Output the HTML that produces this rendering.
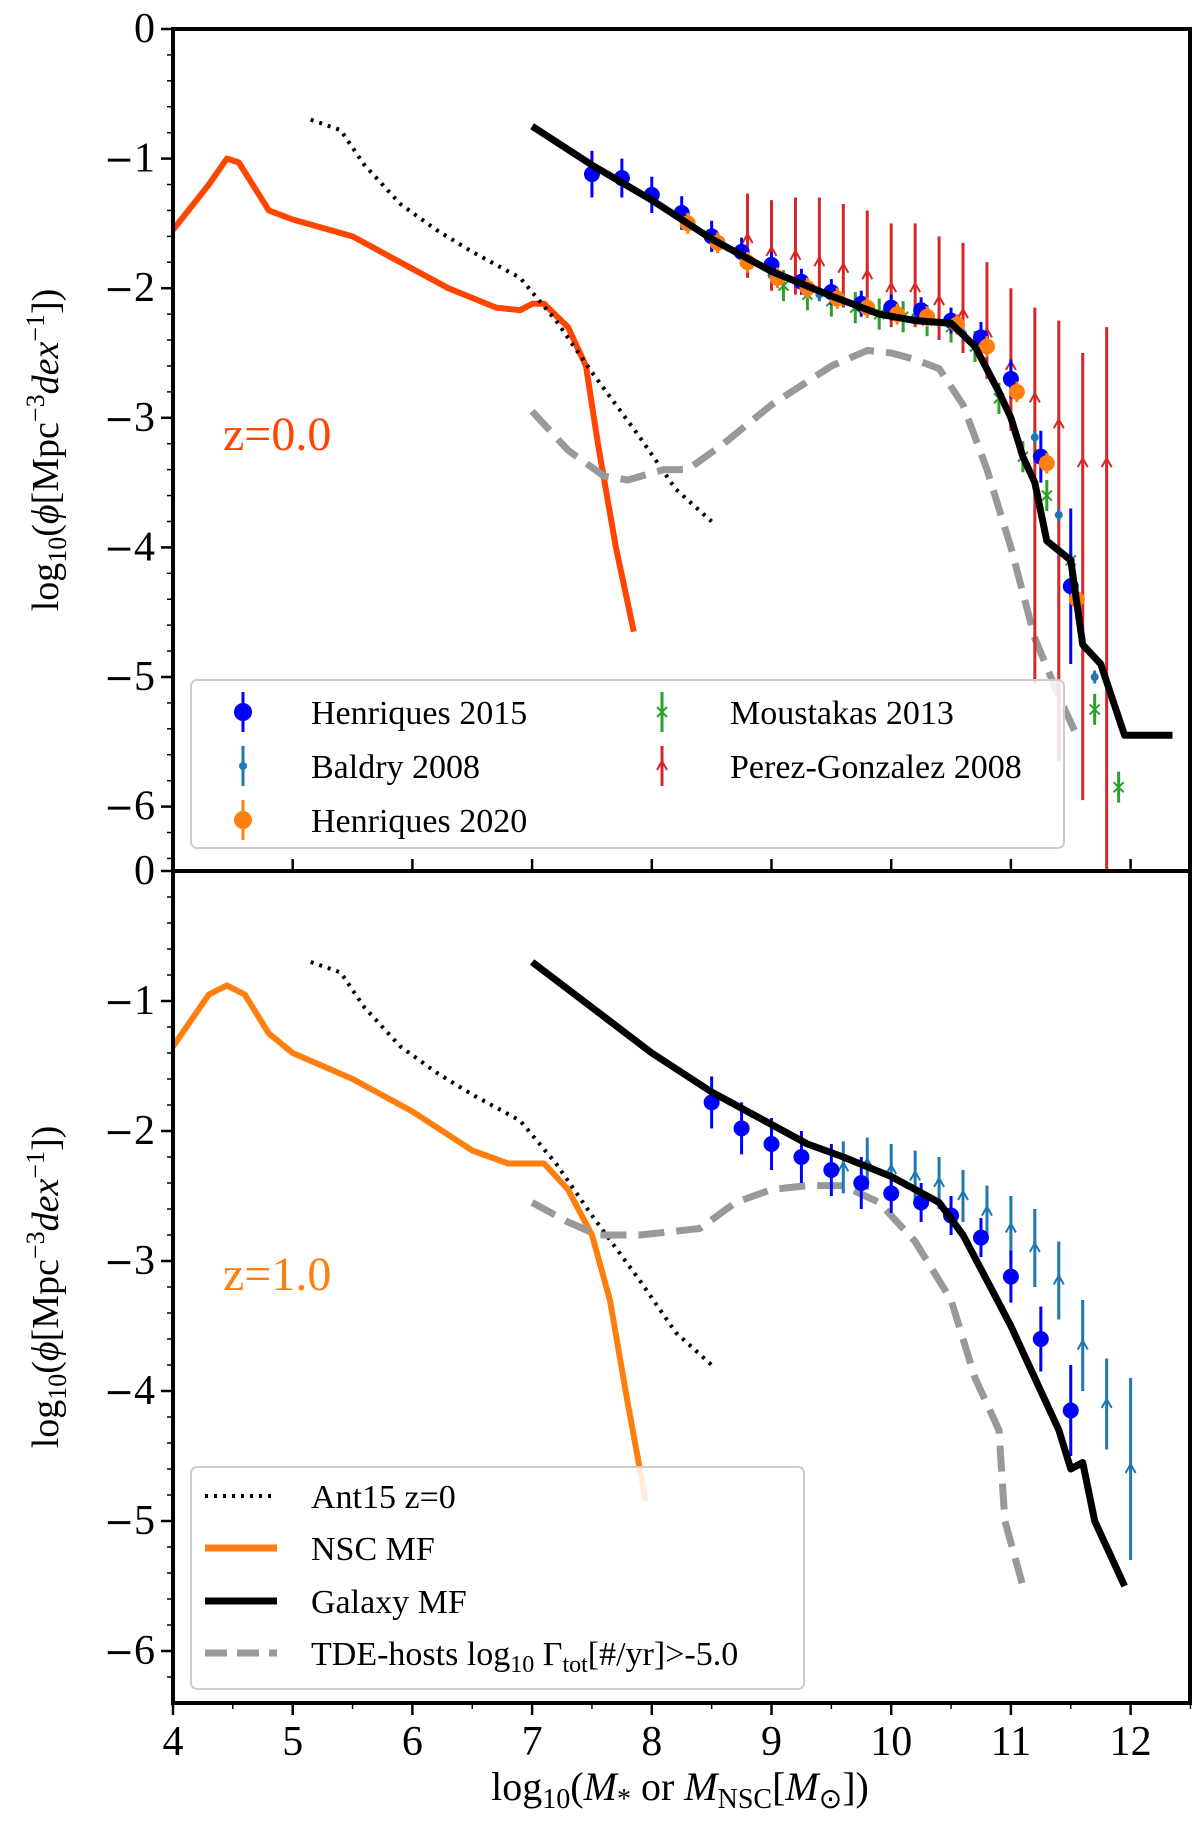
<!DOCTYPE html>
<html><head><meta charset="utf-8">
<style>
html,body{margin:0;padding:0;background:#fff;}
svg{display:block;font-family:"Liberation Serif",serif;}
</style></head>
<body>
<svg id="fig" width="1200" height="1834" viewBox="0 0 1200 1834" xmlns="http://www.w3.org/2000/svg"></svg>
<script>
// ---- data ----
const xTicks=[4,5,6,7,8,9,10,11,12];
const yTicks=[0,-1,-2,-3,-4,-5,-6];
// top panel z=0
const nscTopX=[4,4.3,4.45,4.55,4.8,5,5.5,6,6.3,6.7,6.9,7.0,7.1,7.3,7.45,7.55,7.7,7.85];
const nscTopY=[-1.55,-1.2,-1.0,-1.03,-1.4,-1.47,-1.6,-1.85,-2.0,-2.15,-2.17,-2.12,-2.12,-2.3,-2.6,-3.2,-4.0,-4.65];
const antX=[5.15,5.4,5.6,5.9,6.2,6.5,6.9,7.2,7.5,7.9,8.2,8.5];
const antY=[-0.7,-0.78,-1.05,-1.35,-1.55,-1.72,-1.92,-2.25,-2.65,-3.15,-3.55,-3.8];
const galTopX=[7,7.5,8,8.5,9,9.5,9.9,10.2,10.5,10.7,10.9,11.0,11.1,11.2,11.3,11.5,11.6,11.75,11.95,12.35];
const galTopY=[-0.75,-1.05,-1.32,-1.62,-1.87,-2.06,-2.2,-2.25,-2.27,-2.45,-2.8,-3.0,-3.3,-3.5,-3.95,-4.1,-4.75,-4.9,-5.45,-5.45];
const tdeTopX=[7,7.3,7.6,7.8,8.1,8.3,8.6,9,9.5,9.8,10.0,10.2,10.4,10.6,10.8,11.0,11.2,11.4,11.55];
const tdeTopY=[-2.95,-3.25,-3.45,-3.48,-3.4,-3.4,-3.2,-2.9,-2.6,-2.48,-2.5,-2.55,-2.62,-2.9,-3.4,-4.0,-4.7,-5.15,-5.45];
const h15TopX=[7.5,7.75,8,8.25,8.5,8.75,9,9.25,9.5,9.75,10,10.25,10.5,10.75,11,11.25,11.5];
const h15TopY=[-1.12,-1.15,-1.28,-1.42,-1.6,-1.72,-1.82,-1.95,-2.03,-2.12,-2.15,-2.17,-2.25,-2.38,-2.7,-3.3,-4.3];
const h15TopE=[0.18,0.15,0.14,0.13,0.12,0.11,0.1,0.1,0.1,0.1,0.1,0.1,0.1,0.12,0.15,0.2,0.6];
const h20X=[8.3,8.55,8.8,9.05,9.3,9.55,9.8,10.05,10.3,10.55,10.8,11.05,11.3,11.55];
const h20Y=[-1.5,-1.65,-1.8,-1.92,-2.0,-2.08,-2.15,-2.2,-2.22,-2.28,-2.45,-2.8,-3.35,-4.4];
const pgX=[8.8,9.0,9.2,9.4,9.6,9.8,10.0,10.2,10.4,10.6,10.8,11.0,11.2,11.4,11.6,11.8];
const pgY=[-1.62,-1.72,-1.75,-1.8,-1.85,-1.9,-2.0,-2.0,-2.1,-2.2,-2.35,-2.6,-2.85,-3.05,-3.35,-3.35];
const pgUp=[0.35,0.4,0.45,0.5,0.5,0.5,0.5,0.5,0.5,0.55,0.55,0.6,0.7,0.8,0.85,1.05];
const pgDn=[0.3,0.3,0.3,0.3,0.3,0.3,0.3,0.3,0.3,0.3,0.35,0.5,2.2,2.6,2.6,3.3];
const mouX=[9.1,9.3,9.5,9.7,9.9,10.1,10.3,10.5,10.7,10.9,11.1,11.3,11.5,11.7,11.9];
const mouY=[-1.98,-2.05,-2.1,-2.15,-2.2,-2.22,-2.25,-2.3,-2.45,-2.85,-3.3,-3.6,-4.1,-5.25,-5.85];
const balTopX=[9.0,9.4,9.8,10.2,10.6,11.0,11.2,11.4,11.5,11.7];
const balTopY=[-1.9,-2.05,-2.15,-2.22,-2.35,-2.7,-3.15,-3.75,-4.1,-5.0];
// bottom panel z=1
const nscBotX=[4,4.3,4.45,4.6,4.8,5,5.5,6,6.5,6.8,7.1,7.3,7.5,7.65,7.8,7.95];
const nscBotY=[-1.35,-0.95,-0.88,-0.95,-1.25,-1.4,-1.6,-1.85,-2.15,-2.25,-2.25,-2.45,-2.8,-3.3,-4.1,-4.85];
const galBotX=[7,7.5,8,8.5,9,9.3,9.6,10,10.4,10.6,10.8,11.0,11.2,11.4,11.5,11.6,11.7,11.95];
const galBotY=[-0.7,-1.05,-1.4,-1.7,-1.95,-2.1,-2.2,-2.35,-2.55,-2.8,-3.15,-3.5,-3.9,-4.3,-4.6,-4.55,-5.0,-5.5];
const tdeBotX=[7,7.3,7.55,7.9,8.4,8.7,9.0,9.3,9.6,9.9,10.2,10.5,10.7,10.9,10.95,11.1];
const tdeBotY=[-2.55,-2.7,-2.8,-2.8,-2.75,-2.55,-2.45,-2.42,-2.42,-2.55,-2.85,-3.3,-3.9,-4.3,-5.0,-5.5];
const h15BotX=[8.5,8.75,9,9.25,9.5,9.75,10,10.25,10.5,10.75,11,11.25,11.5];
const h15BotY=[-1.78,-1.98,-2.1,-2.2,-2.3,-2.4,-2.48,-2.55,-2.65,-2.82,-3.12,-3.6,-4.15];
const h15BotE=[0.2,0.2,0.2,0.2,0.2,0.2,0.15,0.15,0.15,0.15,0.2,0.25,0.35];
const balBotX=[9.6,9.8,10.0,10.2,10.4,10.6,10.8,11.0,11.2,11.4,11.6,11.8,12.0];
const balBotY=[-2.28,-2.25,-2.3,-2.35,-2.4,-2.5,-2.62,-2.75,-2.9,-3.15,-3.65,-4.1,-4.6];
const balBotE=[0.2,0.2,0.2,0.2,0.2,0.2,0.2,0.25,0.3,0.3,0.35,0.35,0.7];

// ---- layout ----
const L=173,R=1190,XU=119.7;
const panels=[{top:29,bot:871,y0:29,yu:129.6},{top:871,bot:1703,y0:871,yu:130}];
function sx(v){return L+(v-4)*XU;}
function sy(p,v){return p.y0-v*p.yu;}
const svg=document.getElementById('fig');
const NS='http://www.w3.org/2000/svg';
function mk(tag,attrs,parent){const e=document.createElementNS(NS,tag);for(const k in attrs)e.setAttribute(k,attrs[k]);(parent||svg).appendChild(e);return e;}
function line(p,xs,ys,style,name,g){
  const d=xs.map((x,i)=>(i?'L':'M')+sx(x).toFixed(1)+','+sy(p,ys[i]).toFixed(1)).join('');
  const e=mk('path',Object.assign({d:d,fill:'none','stroke-linejoin':'round'},style),g);
  
  
}
function errPts(p,xs,ys,up,dn,color,marker,name,g){
  xs.forEach((x,i)=>{
    const X=sx(x),Y=sy(p,ys[i]);
    const grp=mk('g',{},g);
    
    
    mk('line',{x1:X,x2:X,y1:sy(p,ys[i]+up[i]),y2:sy(p,ys[i]-dn[i]),stroke:color,'stroke-width':3},grp);
    if(marker==='circle')mk('circle',{cx:X,cy:Y,r:8,fill:color},grp);
    else if(marker==='small')mk('circle',{cx:X,cy:Y,r:4,fill:color},grp);
    else if(marker==='arrow'){mk('path',{d:`M${X-5},${Y+4}L${X},${Y-5}L${X+5},${Y+4}`,fill:'none',stroke:color,'stroke-width':2},grp);}
    else if(marker==='x'){mk('path',{d:`M${X-5},${Y-5}L${X+5},${Y+5}M${X+5},${Y-5}L${X-5},${Y+5}`,fill:'none',stroke:color,'stroke-width':2},grp);}
  });
}
function rep(n,v){return Array(n).fill(v);}

panels.forEach((p,i)=>{const c=mk('clipPath',{id:'clip'+i});mk('rect',{x:L,y:p.top,width:R-L,height:p.bot-p.top},c);});

function axes(p,idx){
  const g=mk('g',{});
  
  
  yTicks.forEach(v=>{const Y=sy(p,v);if(Y<p.top-2||Y>p.bot+2)return;
    mk('line',{x1:L-12,x2:L,y1:Y,y2:Y,stroke:'#000','stroke-width':2.5},g);
    const t=mk('text',{x:L-18,y:Y+13,'text-anchor':'end','font-size':42},g);
    t.innerHTML=v===0?'0':'<tspan font-family="DejaVu Sans" font-size="36">\u2212</tspan>'+Math.abs(v);
  });
  for(let v=0;v>=-6.5;v-=0.2){const Y=sy(p,v);if(Y<p.top||Y>p.bot)continue;mk('line',{x1:L-6,x2:L,y1:Y,y2:Y,stroke:'#000','stroke-width':1.5},g);}
  xTicks.forEach(v=>{const X=sx(v);
    if(idx){mk('line',{x1:X,x2:X,y1:p.bot,y2:p.bot+12,stroke:'#000','stroke-width':2.5},g);
      const t=mk('text',{x:X,y:p.bot+52,'text-anchor':'middle','font-size':42},g);t.textContent=v;}
    else mk('line',{x1:X,x2:X,y1:p.bot-12,y2:p.bot,stroke:'#000','stroke-width':2.5},g);
  });
  if(idx){for(let v=4;v<=12.5;v+=0.5){mk('line',{x1:sx(v),x2:sx(v),y1:p.bot,y2:p.bot+6,stroke:'#000','stroke-width':1.5},g);}}
  mk('rect',{x:L,y:p.top,width:R-L,height:p.bot-p.top,fill:'none',stroke:'#000','stroke-width':4},g);
  const yl=mk('text',{x:0,y:0,'font-size':38,'text-anchor':'middle',transform:`translate(58,${(p.top+p.bot)/2}) rotate(-90)`},g);
  yl.innerHTML='log<tspan font-size="26" dy="8">10</tspan><tspan dy="-8">(</tspan><tspan font-style="italic">ϕ</tspan>[Mpc<tspan font-size="26" dy="-14">−3</tspan><tspan dy="14" font-style="italic">dex</tspan><tspan font-size="26" dy="-14">−1</tspan><tspan dy="14">])</tspan>';
}

(function(){
  const p=panels[0];
  const g=mk('g',{'clip-path':'url(#clip0)'});
  
  
  line(p,nscTopX,nscTopY,{stroke:'#ff4500','stroke-width':6},'nsc-mf-z0',g);
  line(p,antX,antY,{stroke:'#000','stroke-width':4,'stroke-dasharray':'3,6'},'ant15-line-top',g);
  line(p,tdeTopX,tdeTopY,{stroke:'#999','stroke-width':7,'stroke-dasharray':'26,12'},'tde-hosts-z0',g);
  errPts(p,pgX,pgY,pgUp,pgDn,'#d62728','arrow','perez-gonzalez-2008',g);
  errPts(p,mouX,mouY,rep(15,0.12),rep(15,0.12),'#2ca02c','x','moustakas-2013',g);
  errPts(p,balTopX,balTopY,rep(10,0.05),rep(10,0.05),'#1f77b4','small','baldry-2008',g);
  errPts(p,h15TopX,h15TopY,h15TopE,h15TopE,'#0000ff','circle','henriques-2015',g);
  errPts(p,h20X,h20Y,rep(14,0.08),rep(14,0.08),'#ff7f0e','circle','henriques-2020',g);
  line(p,galTopX,galTopY,{stroke:'#000','stroke-width':7},'galaxy-mf-z0',g);
  axes(p,0);
  const t=mk('text',{x:223,y:450,'font-size':48,fill:'#ff4500'});t.textContent='z=0.0';
  
  const lg=mk('g',{});
  
  mk('rect',{x:191,y:680,width:873,height:168,rx:6,fill:'#fff','fill-opacity':0.85,stroke:'#ccc','stroke-width':2},lg);
  const ents=[['Henriques 2015','#0000ff','circle',243,712],['Baldry 2008','#1f77b4','small',243,766],['Henriques 2020','#ff7f0e','circle',243,820],['Moustakas 2013','#2ca02c','x',662,712],['Perez-Gonzalez 2008','#d62728','arrow',662,766]];
  ents.forEach(e=>{const eg=mk('g',{},lg);
    
    const [lab,c,m,X,Y]=e;
    mk('line',{x1:X,x2:X,y1:Y-20,y2:Y+20,stroke:c,'stroke-width':3},eg);
    if(m==='circle')mk('circle',{cx:X,cy:Y,r:9,fill:c},eg);
    else if(m==='small')mk('circle',{cx:X,cy:Y,r:4,fill:c},eg);
    else if(m==='x')mk('path',{d:`M${X-5},${Y-5}L${X+5},${Y+5}M${X+5},${Y-5}L${X-5},${Y+5}`,stroke:c,'stroke-width':2},eg);
    else mk('path',{d:`M${X-5},${Y+4}L${X},${Y-5}L${X+5},${Y+4}`,fill:'none',stroke:c,'stroke-width':2},eg);
    const t=mk('text',{x:X+68,y:Y+12,'font-size':34},eg);t.textContent=lab;});
})();

(function(){
  const p=panels[1];
  const g=mk('g',{'clip-path':'url(#clip1)'});
  
  
  line(p,nscBotX,nscBotY,{stroke:'#ff7f0e','stroke-width':6},'nsc-mf-z1',g);
  line(p,antX,antY,{stroke:'#000','stroke-width':4,'stroke-dasharray':'3,6'},'ant15-line-bottom',g);
  line(p,tdeBotX,tdeBotY,{stroke:'#999','stroke-width':7,'stroke-dasharray':'26,12'},'tde-hosts-z1',g);
  errPts(p,balBotX,balBotY,balBotE,balBotE,'#1f77b4','arrow','baldry-z1',g);
  errPts(p,h15BotX,h15BotY,h15BotE,h15BotE,'#0000ff','circle','henriques-2015-z1',g);
  line(p,galBotX,galBotY,{stroke:'#000','stroke-width':7},'galaxy-mf-z1',g);
  axes(p,1);
  const t=mk('text',{x:223,y:1290,'font-size':48,fill:'#ff7f0e'});t.textContent='z=1.0';
  
  const lg=mk('g',{});
  
  mk('rect',{x:191,y:1467,width:613,height:222,rx:6,fill:'#fff','fill-opacity':0.85,stroke:'#ccc','stroke-width':2},lg);
  const ents=[['Ant15 z=0',{stroke:'#000','stroke-width':4,'stroke-dasharray':'3,6'},1496],['NSC MF',{stroke:'#ff7f0e','stroke-width':7},1548],['Galaxy MF',{stroke:'#000','stroke-width':7},1601],['TDE-hosts',{stroke:'#999','stroke-width':7,'stroke-dasharray':'22,10'},1653]];
  ents.forEach(e=>{const eg=mk('g',{},lg);
    
    mk('line',Object.assign({x1:205,x2:277,y1:e[2],y2:e[2]},e[1]),eg);
    const t=mk('text',{x:311,y:e[2]+12,'font-size':34},eg);
    if(e[0]==='TDE-hosts')t.innerHTML='TDE-hosts log<tspan font-size="24" dy="7">10</tspan><tspan dy="-7"> Γ</tspan><tspan font-size="24" dy="7">tot</tspan><tspan dy="-7">[#/yr]&gt;-5.0</tspan>';
    else t.textContent=e[0];});
})();

const xl=mk('text',{x:680,y:1800,'text-anchor':'middle','font-size':40});

xl.innerHTML='log<tspan font-size="28" dy="8">10</tspan><tspan dy="-8">(</tspan><tspan font-style="italic">M</tspan><tspan font-size="28" dy="8">*</tspan><tspan dy="-8"> or </tspan><tspan font-style="italic">M</tspan><tspan font-size="28" dy="8">NSC</tspan><tspan dy="-8">[</tspan><tspan font-style="italic">M</tspan><tspan font-size="28" dy="8">⊙</tspan><tspan dy="-8">])</tspan>';
</script>
</body></html>
